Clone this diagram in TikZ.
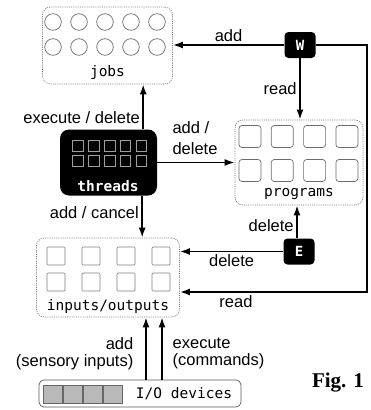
\documentclass[tikz,border=0pt]{standalone}
\usepackage{fontspec}
\setmainfont{Liberation Sans}
\setmonofont{DejaVu Sans Mono}
\newfontfamily\figfont{Liberation Serif}
\usetikzlibrary{arrows.meta, positioning}

\tikzset{
  store/.style={draw=gray!90!black, dash pattern=on 1pt off 1.2pt, line width=0.7pt,
                rounded corners=8pt, inner sep=0pt},
  worker/.style={fill=black, rounded corners=9pt, inner sep=0pt},
  agent/.style={fill=black, rounded corners=4pt, inner sep=0pt, text=white,
                minimum width=31pt, minimum height=26pt,
                font=\ttfamily\bfseries\fontsize{14}{14}\selectfont},
  devbox/.style={draw=gray!70!black, line width=0.7pt, rounded corners=5pt,
                 inner sep=0pt, minimum width=202pt, minimum height=27pt},
  slot/.style={draw=gray!85!black, line width=0.7pt},
  cell/.style={draw=gray!75, line width=0.5pt},
  flow/.style={line width=1.7pt, -{Latex[length=10pt, width=7pt]}},
  lbl/.style={font=\fontsize{16.5}{17}\selectfont, inner sep=2.5pt},
  mono/.style={font=\ttfamily\fontsize{14.5}{14.5}\selectfont, inner sep=0pt}
}

\begin{document}
\begin{tikzpicture}[x=1pt, y=-1pt]
  \useasboundingbox (0,0) rectangle (371,410);

  % stores
  \node[store, minimum width=130pt, minimum height=77pt] (jobs) at (107.5,45.5) {};
  \node[store, minimum width=128pt, minimum height=85pt] (programs) at (299,162.5) {};
  \node[store, minimum width=143pt, minimum height=79pt] (io) at (108,277.5) {};
  \node[mono] (jobslbl) at ([yshift=12pt]jobs.south) {jobs};
  \node[mono] (proglbl) at ([yshift=11pt]programs.south) {programs};
  \node[mono] (iolbl) at ([yshift=11pt]io.south) {inputs/outputs};

  \foreach \i in {0,...,4}
    \foreach \j in {0,1}
      \draw[slot] ({53+26*\i},{22+25*\j}) circle [radius=8.3pt];
  \foreach \i in {0,...,3}
    \foreach \j in {0,1}
      \draw[slot, rounded corners=3pt] ({250+32.3*\i-11},{136.5+34*\j-11}) rectangle +(22,22);
  \foreach \i in {0,...,3}
    \foreach \j in {0,1}
      \draw[slot, draw=gray, rounded corners=1pt] ({56+35*\i-9},{256+26*\j-9}) rectangle +(18,18);

  % threads
  \node[worker, minimum width=97pt, minimum height=66pt] (threads) at (108.5,162.5) {};
  \foreach \i in {0,...,4}
    \foreach \j in {0,1}
      \draw[cell] ({77.8+15.85*\i-5.3},{146+15*\j-5.3}) rectangle +(10.6,10.6);
  \node[mono, text=white, font=\ttfamily\bfseries\fontsize{14.5}{14.5}\selectfont] (thrlbl) at (108,186) {threads};

  % W and E
  \node[agent] (W) at (300,45) {W};
  \node[agent] (E) at (299,251.5) {E};

  % I/O devices
  \node[devbox] (devices) at (140,393.5) {};
  \foreach \i in {0,...,3}
    \draw[fill=gray!55, draw=gray!80!black, line width=0.6pt] ({43+20*\i},385) rectangle +(19,18);
  \node[mono] (devlbl) at (184,394) {I/O devices};

  % connectors
  \draw[flow] (W.west) -- node[lbl, above] {add} (jobs.east |- W.west);
  \draw[flow] (W.south) -- node[lbl, left] {read} (W.south |- programs.north);
  \draw[flow] ([xshift=-14pt]threads.north east) -- node[lbl, left, pos=0.25] {execute / delete}
    ([xshift=-14pt]threads.north east |- jobs.south);
  \draw[flow] (threads.east) -- (programs.west |- threads.east);
  \node[lbl, align=left, font=\fontsize{16.5}{21}\selectfont] (addlbl) at (195,138.5) {add /\\delete};
  \draw[flow] ([xshift=-15pt]threads.south east) -- node[lbl, left, pos=0.4] {add / cancel}
    ([xshift=-15pt]threads.south east |- io.north);
  \draw[flow] ([xshift=-2pt]E.north) -- node[lbl, left, pos=0.4] {delete}
    ([xshift=-2pt]E.north |- programs.south);
  \draw[flow] (E.west) -- node[lbl, below] {delete} (io.east |- E.west);

  \coordinate (wtop) at (367,45);
  \coordinate (wbot) at (367,292);
  \draw[flow] (W.east) -- (wtop) -- (wbot) -- node[lbl, below, pos=0.7] {read} (io.east |- wbot);

  \coordinate (sens) at (146,0);
  \coordinate (cmd) at (162,0);
  \draw[flow] (devices.north -| sens) -- (io.south -| sens);
  \draw[flow] (devices.north -| cmd) -- (io.south -| cmd);
  \node[lbl, align=right, anchor=east] (senslbl) at (136,353.5) {add\\(sensory inputs)};
  \node[lbl, align=left, anchor=west] (cmdlbl) at (170,353.5) {execute\\(commands)};

  \node[font=\figfont\bfseries\fontsize{21}{21}\selectfont, inner sep=0pt] (fig) at (338,383) {Fig. 1};
\end{tikzpicture}
\end{document}
